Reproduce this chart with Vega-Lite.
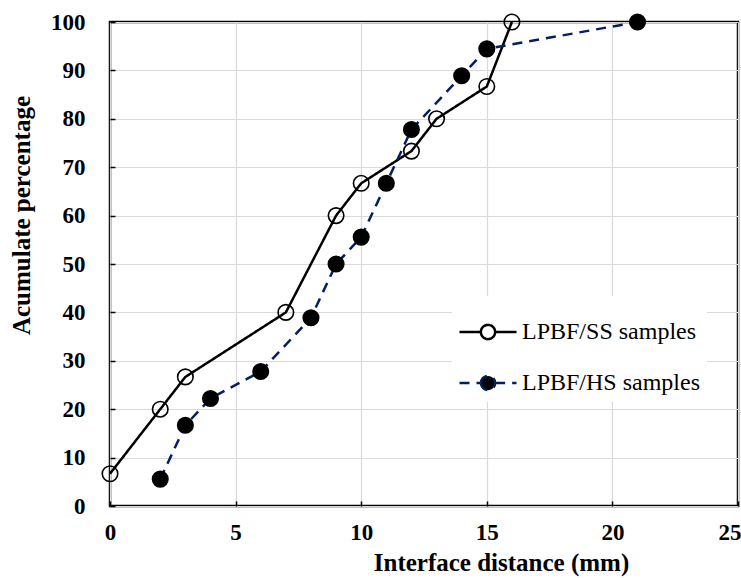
{
  "$schema": "https://vega.github.io/schema/vega-lite/v6.json",
  "width": 628,
  "height": 484,
  "autosize": "none",
  "padding": {"left": 110, "top": 22, "right": 3, "bottom": 72},
  "background": "white",
  "config": {
    "view": {"stroke": "black", "strokeWidth": 2.5},
    "axis": {
      "grid": true,
      "gridColor": "#d9d9d9",
      "gridWidth": 1.2,
      "domain": false,
      "tickColor": "black",
      "tickWidth": 1.5,
      "labelFont": "Liberation Serif",
      "labelFontSize": 23,
      "labelFontWeight": "bold",
      "labelColor": "black",
      "titleFont": "Liberation Serif",
      "titleFontSize": 25,
      "titleFontWeight": "bold",
      "titleColor": "black"
    }
  },
  "data": {
    "values": [
      {"series": "LPBF/SS samples", "distance": 0, "pct": 6.67},
      {"series": "LPBF/SS samples", "distance": 2, "pct": 20},
      {"series": "LPBF/SS samples", "distance": 3, "pct": 26.67},
      {"series": "LPBF/SS samples", "distance": 7, "pct": 40},
      {"series": "LPBF/SS samples", "distance": 9, "pct": 60},
      {"series": "LPBF/SS samples", "distance": 10, "pct": 66.67},
      {"series": "LPBF/SS samples", "distance": 12, "pct": 73.33},
      {"series": "LPBF/SS samples", "distance": 13, "pct": 80},
      {"series": "LPBF/SS samples", "distance": 15, "pct": 86.67},
      {"series": "LPBF/SS samples", "distance": 16, "pct": 100},
      {"series": "LPBF/HS samples", "distance": 2, "pct": 5.56},
      {"series": "LPBF/HS samples", "distance": 3, "pct": 16.67},
      {"series": "LPBF/HS samples", "distance": 4, "pct": 22.22},
      {"series": "LPBF/HS samples", "distance": 6, "pct": 27.78},
      {"series": "LPBF/HS samples", "distance": 8, "pct": 38.89},
      {"series": "LPBF/HS samples", "distance": 9, "pct": 50},
      {"series": "LPBF/HS samples", "distance": 10, "pct": 55.56},
      {"series": "LPBF/HS samples", "distance": 11, "pct": 66.67},
      {"series": "LPBF/HS samples", "distance": 12, "pct": 77.78},
      {"series": "LPBF/HS samples", "distance": 14, "pct": 88.89},
      {"series": "LPBF/HS samples", "distance": 15, "pct": 94.44},
      {"series": "LPBF/HS samples", "distance": 21, "pct": 100}
    ]
  },
  "encoding": {
    "x": {
      "field": "distance",
      "type": "quantitative",
      "scale": {"domain": [0, 25], "nice": false},
      "axis": {
        "title": "Interface distance (mm)",
        "values": [0, 5, 10, 15, 20, 25],
        "tickSize": -5,
        "labelPadding": 20,
        "labelFlush": false,
        "labelAlign": {"expr": "datum.value === 25 ? 'right' : 'center'"},
        "labelOffset": {"expr": "datum.value === 25 ? 3 : 0"},
        "titleX": 391,
        "titlePadding": 6
      }
    },
    "y": {
      "field": "pct",
      "type": "quantitative",
      "scale": {"domain": [0, 100], "nice": false},
      "axis": {
        "title": "Acumulate percentage",
        "values": [0, 10, 20, 30, 40, 50, 60, 70, 80, 90, 100],
        "tickSize": -5,
        "labelPadding": 30,
        "labelFlush": false,
        "titleY": 193,
        "titlePadding": 16
      }
    }
  },
  "layer": [
    {
      "mark": {"type": "line", "strokeWidth": 2.5, "clip": false},
      "encoding": {
        "color": {
          "field": "series",
          "type": "nominal",
          "scale": {"domain": ["LPBF/SS samples", "LPBF/HS samples"], "range": ["black", "#002060"]},
          "legend": {
            "title": null,
            "orient": "none",
            "legendX": 342,
            "legendY": 274,
            "padding": 6,
            "fillColor": "white",
            "labelFont": "Liberation Serif",
            "labelFontSize": 24,
            "labelFontWeight": "normal",
            "labelColor": "black",
            "labelOffset": 4,
            "labelLimit": 0,
            "rowPadding": 8,
            "symbolType": "M-1,0H-0.25M0.25,0H1M-0.25,0A0.25,0.25,0,1,1,0.25,0A0.25,0.25,0,1,1,-0.25,0",
            "symbolSize": 3249,
            "symbolStrokeWidth": 2.5,
            "encode": {
              "symbols": {
                "update": {
                  "fill": {"signal": "datum.value === 'LPBF/HS samples' ? 'black' : 'transparent'"},
                  "strokeDash": {"signal": "datum.value === 'LPBF/HS samples' ? [10, 7] : [1, 0]"}
                }
              }
            }
          }
        },
        "strokeDash": {
          "field": "series",
          "type": "nominal",
          "scale": {"domain": ["LPBF/SS samples", "LPBF/HS samples"], "range": [[1, 0], [10, 7]]},
          "legend": null
        }
      }
    },
    {
      "mark": {"type": "point", "shape": "circle", "size": 240, "strokeWidth": 1.6, "stroke": "black", "filled": true, "opacity": 1, "clip": false},
      "encoding": {
        "fill": {
          "field": "series",
          "type": "nominal",
          "scale": {"domain": ["LPBF/SS samples", "LPBF/HS samples"], "range": ["transparent", "black"]},
          "legend": null
        }
      }
    }
  ]
}
